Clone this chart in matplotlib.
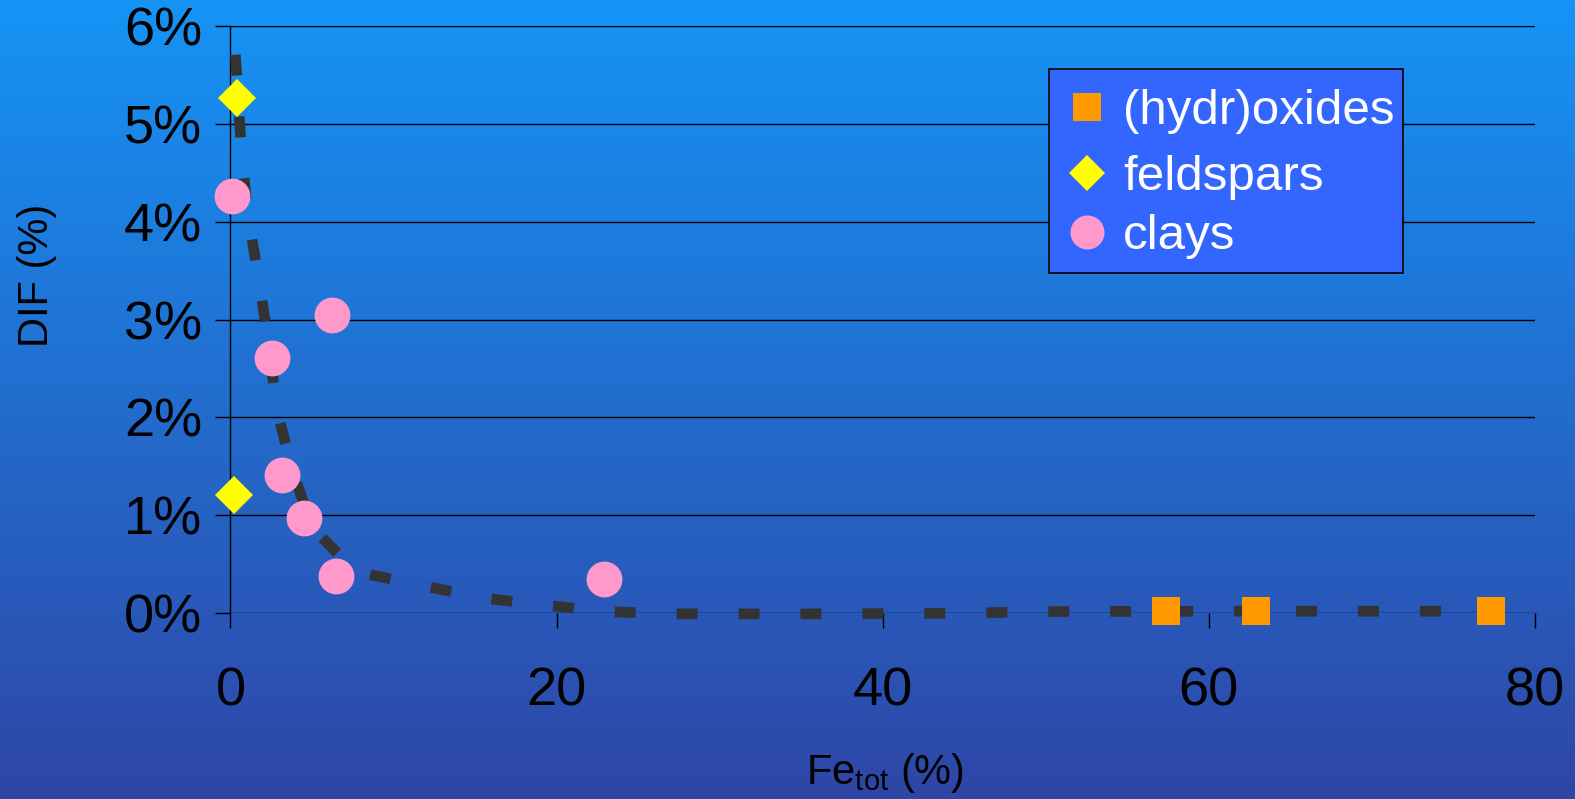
import numpy as np
import matplotlib
matplotlib.use("Agg")
import matplotlib.pyplot as plt
from matplotlib.lines import Line2D
from matplotlib.patches import Rectangle
from matplotlib.ticker import FixedLocator, FuncFormatter

plt.rcParams['font.family'] = ['Liberation Sans', 'DejaVu Sans']
plt.rcParams['mathtext.fontset'] = 'custom'
plt.rcParams['mathtext.rm'] = 'Liberation Sans'
plt.rcParams['lines.scale_dashes'] = False

# --- data (Fe_tot in %, DIF in %) ---
hydroxides_x = [57.4, 62.9, 77.35]
hydroxides_y = [0.015, 0.015, 0.015]

feldspars_x = [0.4, 0.21]
feldspars_y = [5.27, 1.20]

clays_x = [0.09, 2.53, 6.25, 3.18, 4.51, 6.45, 22.9]
clays_y = [4.26, 2.61, 3.05, 1.41, 0.97, 0.38, 0.345]

trend_x = [0.3, 0.67, 1.07, 1.75, 2.3, 2.85, 3.8, 5.0, 7.7, 11.4, 15.5,
           19.1, 23.2, 27.0, 35.0, 45.0, 50.0, 60.0, 70.0, 77.5]
trend_y = [5.71, 4.72, 4.06, 3.40, 2.79, 2.07, 1.46, 0.87, 0.42, 0.29, 0.15,
           0.08, 0.01, -0.012, -0.013, -0.005, 0.012, 0.015, 0.015, 0.015]

x_ticks = [0, 20, 40, 60, 80]
y_ticks = [0, 1, 2, 3, 4, 5, 6]

series_labels = ['(hydr)oxides', 'feldspars', 'clays']
series_colors = ['#ff9900', '#ffff00', '#ff99cc']
series_markers = ['s', 'D', 'o']
series_sizes = [20.5, 19.4, 25.8]

W, H = 1575, 799
fig = plt.figure(figsize=(W / 100, H / 100), dpi=100)

# vertical gradient background
bg = fig.add_axes([0, 0, 1, 1], zorder=-10)
top = np.array([21, 148, 246]) / 255
bot = np.array([47, 70, 166]) / 255
t = np.linspace(0, 1, 400)[:, None]
grad = (top[None, :] * (1 - t) + bot[None, :] * t)[:, None, :]
bg.imshow(grad, aspect='auto', extent=[0, 1, 0, 1], origin='upper')
bg.set_axis_off()

x0px, x1px = 230.5, 1534.5
y0px, y6px = 612.7, 26.3
ax = fig.add_axes([x0px / W, 1 - y0px / H, (x1px - x0px) / W, (y0px - y6px) / H])
ax.set_facecolor('none')
ax.set_xlim(0, 80)
ax.set_ylim(0, 6)

ax.xaxis.set_major_locator(FixedLocator(x_ticks))
ax.yaxis.set_major_locator(FixedLocator(y_ticks))
ax.yaxis.set_major_formatter(FuncFormatter(lambda v, p: f"{v:.0f}%"))
ax.grid(axis='y', color='black', linewidth=1.0, zorder=0)
ax.set_axisbelow(True)
for s in ['top', 'right', 'bottom']:
    ax.spines[s].set_visible(False)
ax.spines['left'].set_color('black')
ax.spines['left'].set_linewidth(1.0)
ax.tick_params(axis='y', direction='out', length=10.5, width=1.0, pad=10,
               labelsize=39, colors='black')
ax.tick_params(axis='x', direction='out', length=10.5, width=1.0, pad=28,
               labelsize=39, colors='black')

# trend line
ax.plot(trend_x, trend_y, color='#333333', linewidth=7.7,
        linestyle=(0, (15.1, 29.5)), dash_capstyle='butt', zorder=3,
        clip_on=False)

xs = [hydroxides_x, feldspars_x, clays_x]
ys = [hydroxides_y, feldspars_y, clays_y]
for x, y, c, m, ms in zip(xs, ys, series_colors, series_markers, series_sizes):
    ax.plot(x, y, linestyle='none', marker=m, markersize=ms, color=c,
            markeredgewidth=0, zorder=5, clip_on=False)

fig.text(885 / W, 1 - 773 / H, r'Fe$_\mathregular{tot}$ (%)', fontsize=30,
         ha='center', va='center', color='black')
fig.text(37 / W, 1 - 275 / H, 'DIF (%)', fontsize=30, rotation=90,
         ha='center', va='center', color='black')

# legend box
lx0, ly0, lx1, ly1 = 1049, 69, 1403, 273
fig.add_artist(Rectangle((lx0 / W, 1 - ly1 / H), (lx1 - lx0) / W, (ly1 - ly0) / H,
                         transform=fig.transFigure, facecolor='#3366ff',
                         edgecolor='black', linewidth=1.2, zorder=6))
row_y = [106.7, 173.0, 231.7]
for ry, lab, c, m, ms in zip(row_y, series_labels, series_colors,
                             series_markers, series_sizes):
    fig.add_artist(Line2D([1087 / W], [1 - ry / H], transform=fig.transFigure,
                          marker=m, markersize=ms * 0.95, color=c,
                          markeredgewidth=0, linestyle='none', zorder=7))
    fig.text(1123 / W, 1 - ry / H, lab, fontsize=35.5, color='white',
             ha='left', va='center_baseline', zorder=8)

fig.savefig('out.png', dpi=100)
